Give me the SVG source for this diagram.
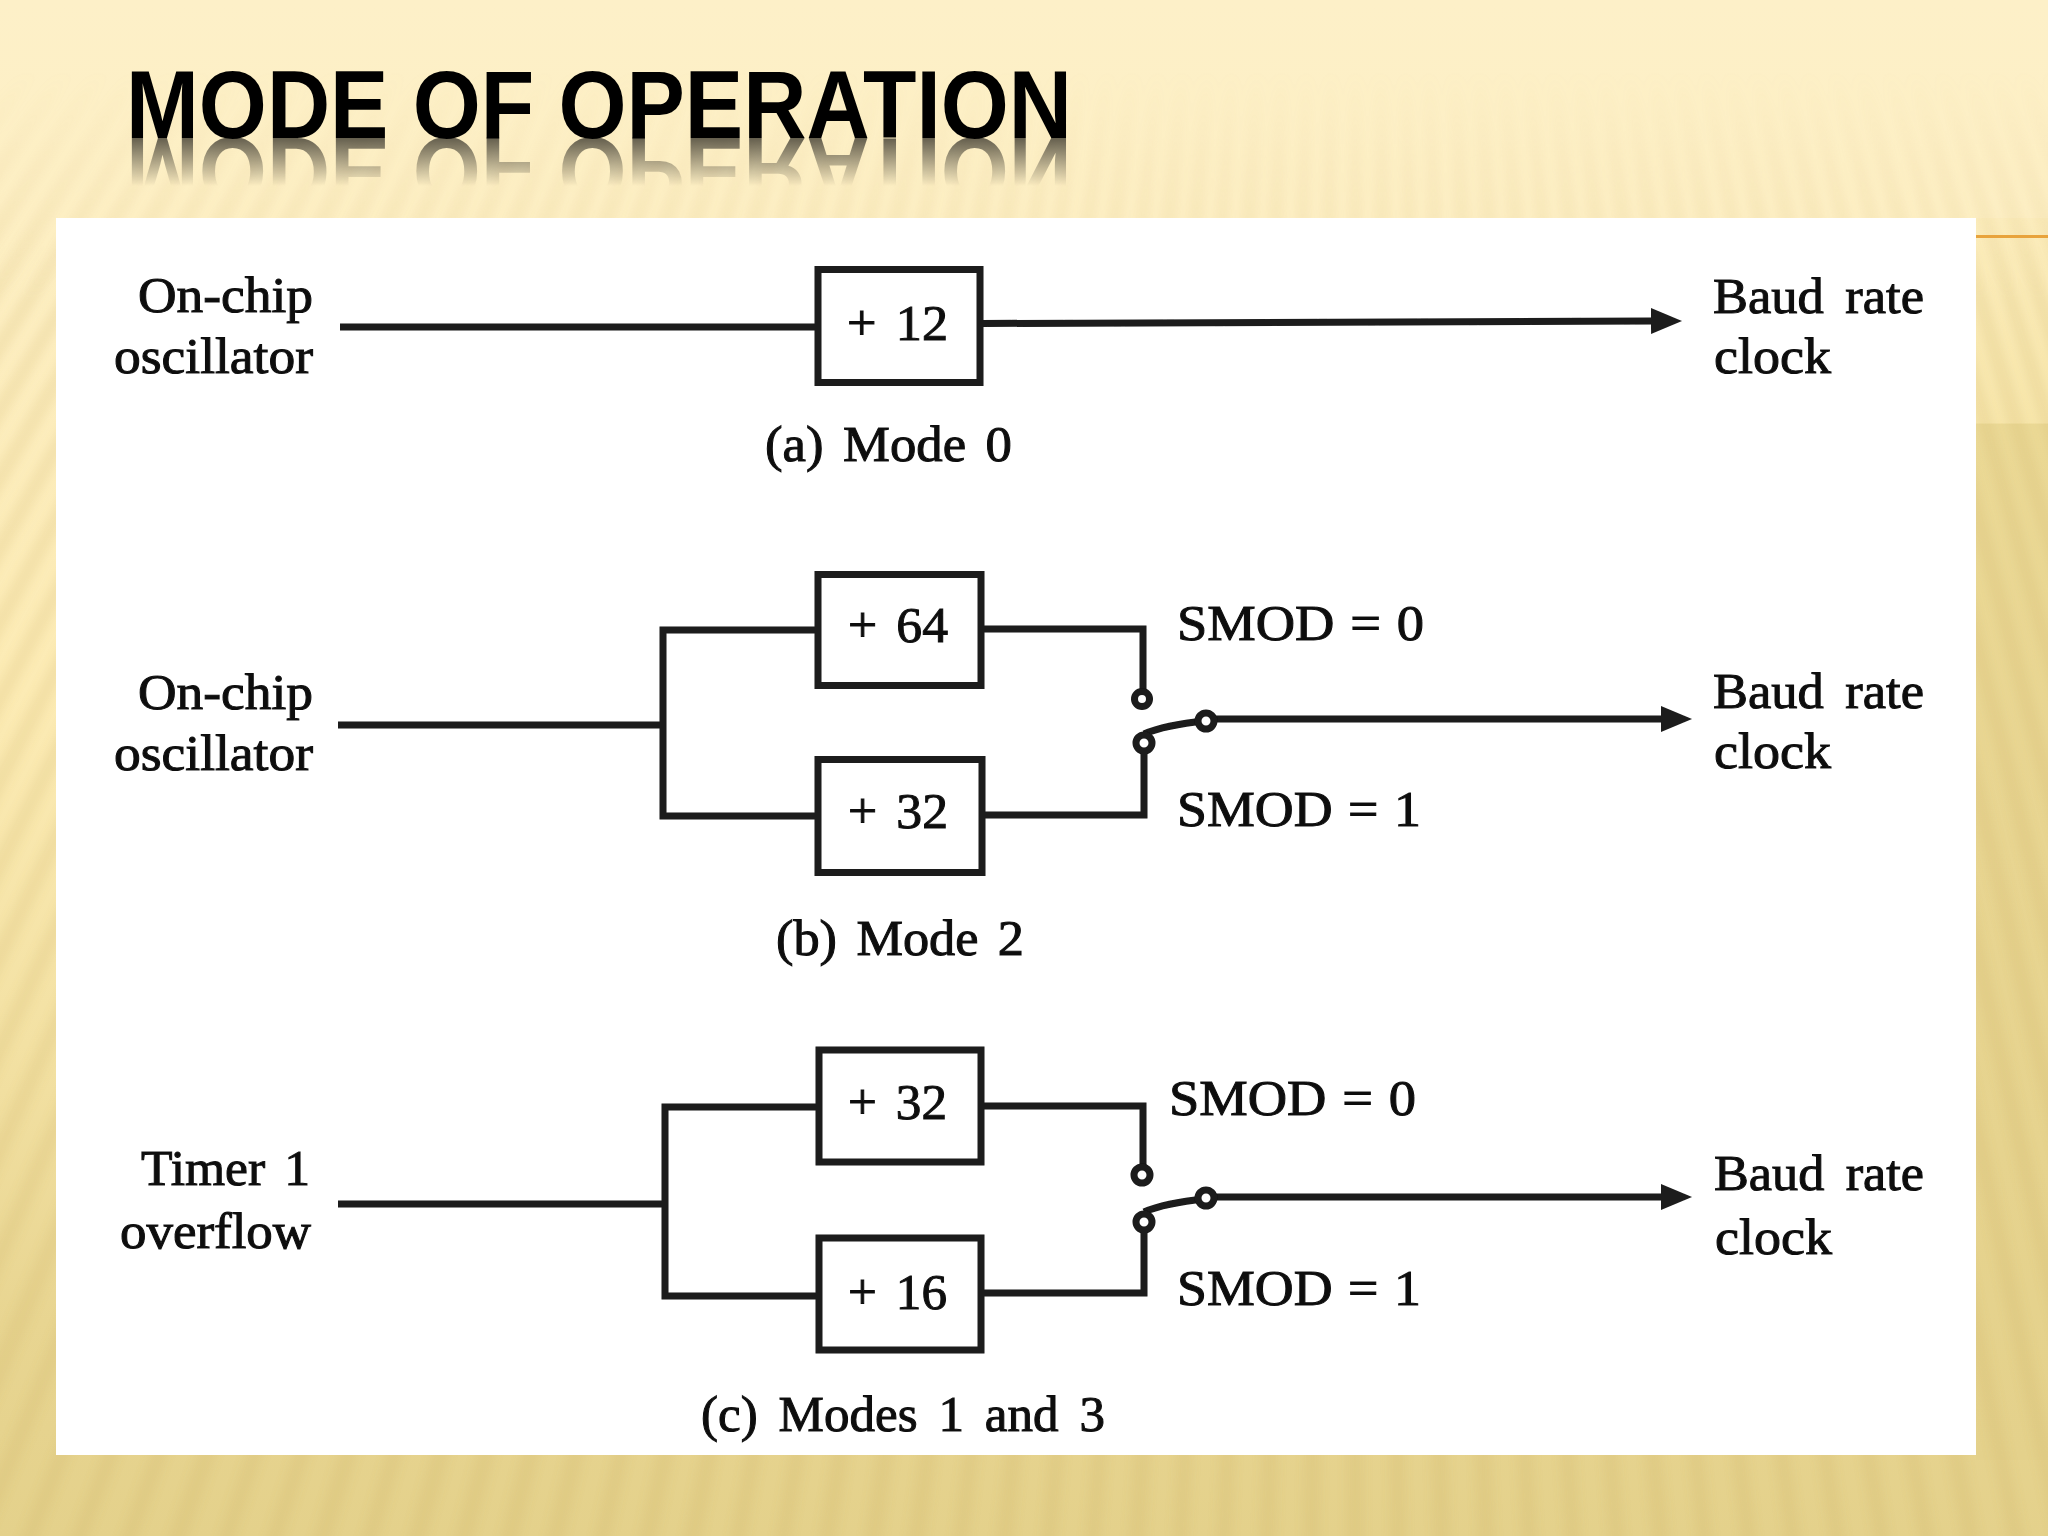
<svg xmlns="http://www.w3.org/2000/svg" xmlns:xlink="http://www.w3.org/1999/xlink" width="2048" height="1536" viewBox="0 0 2048 1536">
<defs>
<linearGradient id="bgL" x1="0" y1="0" x2="0" y2="1">
<stop offset="0" stop-color="#fdf0c8"/><stop offset="0.14" stop-color="#fdefc4"/><stop offset="0.45" stop-color="#fcebb4"/><stop offset="0.68" stop-color="#f3e1a3"/><stop offset="0.86" stop-color="#e8d591"/><stop offset="1" stop-color="#e4d18b"/>
</linearGradient>
<linearGradient id="bgR" gradientUnits="userSpaceOnUse" x1="0" y1="218" x2="0" y2="1460">
<stop offset="0" stop-color="#fcedbd"/><stop offset="0.165" stop-color="#f7e6ab"/><stop offset="0.166" stop-color="#ebd996"/><stop offset="0.5" stop-color="#e8d591"/><stop offset="1" stop-color="#e4d18b"/>
</linearGradient>
<linearGradient id="fadeStripes" gradientUnits="userSpaceOnUse" x1="0" y1="70" x2="0" y2="300">
<stop offset="0" stop-color="#000"/><stop offset="0.5" stop-color="#777"/><stop offset="1" stop-color="#fff"/>
</linearGradient>
<mask id="stripeMask" maskUnits="userSpaceOnUse" x="0" y="0" width="2048" height="1536"><rect width="2048" height="1536" fill="url(#fadeStripes)"/></mask>
<linearGradient id="fadeRefl" gradientUnits="userSpaceOnUse" x1="0" y1="138" x2="0" y2="186">
<stop offset="0" stop-color="#999"/><stop offset="1" stop-color="#000"/>
</linearGradient>
<mask id="reflMask" maskUnits="userSpaceOnUse" x="100" y="130" width="1000" height="70"><rect x="100" y="130" width="1000" height="70" fill="url(#fadeRefl)"/></mask>
<filter id="stripeBlur" filterUnits="userSpaceOnUse" x="0" y="0" width="2048" height="1536"><feGaussianBlur stdDeviation="4"/></filter>
<filter id="soft" filterUnits="userSpaceOnUse" x="0" y="0" width="2048" height="1536"><feGaussianBlur stdDeviation="0.7"/></filter>
<marker id="arrow" markerUnits="userSpaceOnUse" markerWidth="32" markerHeight="28" refX="2" refY="14" orient="auto">
<path d="M0,1 L31,14 L0,27 Z" fill="#1c1c1c"/>
</marker>
<text id="title-text" x="126" y="138" textLength="946" lengthAdjust="spacingAndGlyphs" font-family="'Liberation Sans',Arial,sans-serif" font-weight="700" font-size="96" fill="#000">MODE OF OPERATION</text>
</defs>
<style>
.t{font-family:'Liberation Serif','Times New Roman',serif;font-size:50px;fill:#111;stroke:#111;stroke-width:1px}
.w{fill:none;stroke:#1a1a1a;stroke-width:7;stroke-linejoin:miter}
.b{fill:#fff;stroke:#1a1a1a;stroke-width:7}
.c{fill:#fff;stroke:#1a1a1a;stroke-width:7}
.a{marker-end:url(#arrow)}
</style>
<g id="background">
<rect width="2048" height="1536" fill="url(#bgL)"/>
<rect x="1976" y="218" width="72" height="1242" fill="url(#bgR)"/>
<g mask="url(#stripeMask)"><g filter="url(#stripeBlur)">
<circle cx="1357" cy="-1850" r="2800" fill="none" stroke="#c9a85a" stroke-opacity="0.15" stroke-width="1900" stroke-dasharray="16 20"/>
</g></g>
<line x1="1976" y1="236.5" x2="2048" y2="236.5" stroke="#e8a33c" stroke-width="3"/>
</g>
<g id="title">
<use href="#title-text"/>
<g mask="url(#reflMask)"><use href="#title-text" transform="matrix(1 0 0 -1 0 276)"/></g>
</g>
<rect id="panel" x="56" y="218" width="1920" height="1237" fill="#fff"/>
<g filter="url(#soft)">
<g id="connectors">
<path class="w" d="M340,327 H818"/>
<path class="w a" d="M982,323.5 L1653,321"/>
<path class="w" d="M338,725 H663"/>
<path class="w" d="M818,630 H663 V816 H818"/>
<path class="w" d="M982,629 H1143 V692"/>
<path class="w" d="M982,815 H1144 V752"/>
<path class="w" d="M1144,734 Q1165,725 1205,721"/>
<path class="w a" d="M1205,719 H1663"/>
<path class="w" d="M338,1204 H665"/>
<path class="w" d="M818,1107 H665 V1296 H818"/>
<path class="w" d="M982,1106 H1143 V1167"/>
<path class="w" d="M982,1293 H1144 V1231"/>
<path class="w" d="M1144,1212 Q1165,1203 1205,1199"/>
<path class="w a" d="M1205,1197 H1663"/>
</g>
<g id="source-a"><text class="t" x="138" y="312" textLength="175" lengthAdjust="spacingAndGlyphs">On-chip</text><text class="t" x="114" y="373" textLength="199" lengthAdjust="spacingAndGlyphs">oscillator</text></g>
<g id="div-12"><rect class="b" x="818" y="269.5" width="162" height="113"/><text class="t" x="847" y="340" textLength="101" lengthAdjust="spacingAndGlyphs" word-spacing="6">+ 12</text></g>
<g id="output-a"><text class="t" x="1713" y="313" textLength="211" lengthAdjust="spacingAndGlyphs" word-spacing="8">Baud rate</text><text class="t" x="1714" y="373" textLength="117" lengthAdjust="spacingAndGlyphs">clock</text></g>
<text class="t" id="caption-a" x="765" y="461" textLength="247" lengthAdjust="spacingAndGlyphs" word-spacing="6">(a) Mode 0</text>

<g id="source-b"><text class="t" x="138" y="709" textLength="175" lengthAdjust="spacingAndGlyphs">On-chip</text><text class="t" x="114" y="770" textLength="199" lengthAdjust="spacingAndGlyphs">oscillator</text></g>
<g id="div-64"><rect class="b" x="818" y="574.5" width="163" height="111"/><text class="t" x="848" y="642" textLength="100" lengthAdjust="spacingAndGlyphs" word-spacing="6">+ 64</text></g>
<g id="div-32-b"><rect class="b" x="818" y="759.5" width="164" height="113"/><text class="t" x="848" y="828" textLength="100" lengthAdjust="spacingAndGlyphs" word-spacing="6">+ 32</text></g>
<g id="switch-b"><circle class="c" cx="1142" cy="699" r="7.5"/><circle class="c" cx="1144" cy="743" r="8"/><circle class="c" cx="1206" cy="721" r="8"/></g>
<text class="t" id="smod0-b" x="1177" y="640" textLength="247" lengthAdjust="spacingAndGlyphs" word-spacing="2">SMOD = 0</text>
<text class="t" id="smod1-b" x="1177" y="826" textLength="244" lengthAdjust="spacingAndGlyphs" word-spacing="2">SMOD = 1</text>
<g id="output-b"><text class="t" x="1713" y="708" textLength="211" lengthAdjust="spacingAndGlyphs" word-spacing="8">Baud rate</text><text class="t" x="1714" y="768" textLength="117" lengthAdjust="spacingAndGlyphs">clock</text></g>
<text class="t" id="caption-b" x="776" y="955" textLength="248" lengthAdjust="spacingAndGlyphs" word-spacing="6">(b) Mode 2</text>

<g id="source-c"><text class="t" x="141" y="1185" textLength="169" lengthAdjust="spacingAndGlyphs" word-spacing="6">Timer 1</text><text class="t" x="120" y="1248" textLength="191" lengthAdjust="spacingAndGlyphs">overflow</text></g>
<g id="div-32-c"><rect class="b" x="819" y="1050" width="162" height="112"/><text class="t" x="848" y="1119" textLength="99" lengthAdjust="spacingAndGlyphs" word-spacing="6">+ 32</text></g>
<g id="div-16"><rect class="b" x="819" y="1238" width="162" height="112"/><text class="t" x="848" y="1309" textLength="99" lengthAdjust="spacingAndGlyphs" word-spacing="6">+ 16</text></g>
<g id="switch-c"><circle class="c" cx="1142" cy="1175" r="8"/><circle class="c" cx="1144" cy="1222" r="8"/><circle class="c" cx="1206" cy="1198" r="8"/></g>
<text class="t" id="smod0-c" x="1169" y="1115" textLength="247" lengthAdjust="spacingAndGlyphs" word-spacing="2">SMOD = 0</text>
<text class="t" id="smod1-c" x="1177" y="1305" textLength="244" lengthAdjust="spacingAndGlyphs" word-spacing="2">SMOD = 1</text>
<g id="output-c"><text class="t" x="1714" y="1190" textLength="210" lengthAdjust="spacingAndGlyphs" word-spacing="8">Baud rate</text><text class="t" x="1715" y="1254" textLength="117" lengthAdjust="spacingAndGlyphs">clock</text></g>
<text class="t" id="caption-c" x="701" y="1431" textLength="404" lengthAdjust="spacingAndGlyphs" word-spacing="8">(c) Modes 1 and 3</text>
</g>
</svg>
